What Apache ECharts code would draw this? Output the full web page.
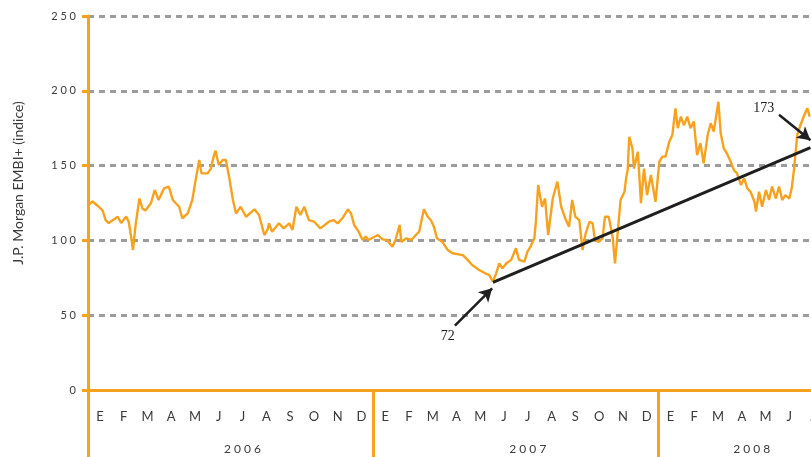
<!DOCTYPE html>
<html><head><meta charset="utf-8">
<script src="https://cdn.jsdelivr.net/npm/echarts@6/dist/echarts.min.js"></script>
<style>html,body{margin:0;padding:0;background:#fff}#c{width:811px;height:457px}</style>
</head><body><div id="c"></div>
<script>
// ---- data ----
const monthLetters = ['E','F','M','A','M','J','J','A','S','O','N','D',
  'E','F','M','A','M','J','J','A','S','O','N','D',
  'E','F','M','A','M','J','J'];
const yearLabels = {6:'2006', 18:'2007', 27:'2008'};
const yMin = 0, yMax = 250, yStep = 50;
const yTitle = 'J.P. Morgan EMBI+ (indice)';

const dates = [
 '2006-01-02','2006-01-07','2006-01-15','2006-01-20','2006-01-24','2006-01-28','2006-02-08','2006-02-12','2006-02-18','2006-02-21','2006-02-24','2006-02-26',
 '2006-03-01','2006-03-06','2006-03-10','2006-03-14','2006-03-21','2006-03-26','2006-03-31','2006-04-07','2006-04-13','2006-04-18','2006-04-26','2006-04-30',
 '2006-05-07','2006-05-13','2006-05-17','2006-05-22','2006-05-25','2006-06-02','2006-06-06','2006-06-10','2006-06-12','2006-06-16','2006-06-21','2006-06-25','2006-06-29',
 '2006-07-04','2006-07-08','2006-07-14','2006-07-21','2006-08-01','2006-08-07','2006-08-14','2006-08-18','2006-08-20','2006-08-24',
 '2006-09-02','2006-09-08','2006-09-15','2006-09-19','2006-09-24','2006-09-29','2006-10-04','2006-10-10','2006-10-17','2006-10-25',
 '2006-11-05','2006-11-11','2006-11-16','2006-11-22','2006-11-29','2006-12-03','2006-12-07','2006-12-13','2006-12-18','2006-12-22','2006-12-26','2006-12-30',
 '2007-01-07','2007-01-13','2007-01-19','2007-01-26','2007-01-30','2007-02-04','2007-02-06','2007-02-12','2007-02-18','2007-02-23','2007-02-27',
 '2007-03-05','2007-03-10','2007-03-14','2007-03-18','2007-03-22','2007-03-29','2007-04-05','2007-04-11','2007-04-24','2007-04-30',
 '2007-05-06','2007-05-15','2007-05-23','2007-05-28','2007-06-02','2007-06-06','2007-06-10','2007-06-14','2007-06-19','2007-06-25',
 '2007-07-01','2007-07-05','2007-07-12','2007-07-16','2007-07-20','2007-07-25','2007-07-27','2007-07-30',
 '2007-08-04','2007-08-08','2007-08-12','2007-08-18','2007-08-24','2007-08-29','2007-09-04','2007-09-08','2007-09-12','2007-09-16','2007-09-21','2007-09-25','2007-09-29',
 '2007-10-04','2007-10-08','2007-10-11','2007-10-16','2007-10-21','2007-10-24','2007-10-29','2007-11-03','2007-11-06','2007-11-09','2007-11-13','2007-11-18','2007-11-20','2007-11-22','2007-11-24','2007-11-28','2007-11-30',
 '2007-12-05','2007-12-09','2007-12-13','2007-12-17','2007-12-22','2007-12-28',
 '2008-01-02','2008-01-06','2008-01-10','2008-01-15','2008-01-19','2008-01-23','2008-01-26','2008-01-30','2008-02-03','2008-02-07','2008-02-11','2008-02-15','2008-02-19','2008-02-23','2008-02-27',
 '2008-03-03','2008-03-07','2008-03-11','2008-03-14','2008-03-17','2008-03-20','2008-03-24','2008-03-28','2008-04-02','2008-04-06','2008-04-10','2008-04-15','2008-04-19','2008-04-23','2008-04-27',
 '2008-05-02','2008-05-04','2008-05-08','2008-05-12','2008-05-17','2008-05-21','2008-05-25','2008-05-30','2008-06-03','2008-06-07','2008-06-11','2008-06-16','2008-06-19','2008-06-22','2008-06-26','2008-06-30',
 '2008-07-05','2008-07-09','2008-07-12'
];
const values = [
 124,126,122.5,120,113.6,111.6,115.8,111.6,116,112.5,101.6,93.6,
 110,128,121.4,120,124.8,133.7,127,134.8,136,127,122.5,114.8,
 118,127,139.3,153.7,144.8,144.8,148,157,160,150.4,153.7,153.7,142.6,
 127,118,122.5,115.8,120.8,117,103.6,107,111.4,105.8,
 111.4,108,111.4,107,122.5,117,122.5,113.6,112.5,108,
 112.5,113.6,111.4,114.8,120.8,118,110.3,105.8,100.3,102.5,100.3,101.4,
 103.6,100.7,100.3,95.8,100.3,110.3,99,101.4,100.3,103.6,105.8,
 120.8,115.8,113.6,109.2,101.4,99,93.6,91.4,90.2,87,
 83.6,80.2,78,76.9,72.4,78,84.7,81.3,84.7,87,
 94.7,87,85.8,92.5,95.8,101.4,112.5,137,
 122.5,128,103.6,128,139.3,122.5,113.6,109.2,127,115.8,113.6,93.6,104.7,
 112.5,111.4,100.3,99,101.4,115.8,115.8,102.5,84.7,102.5,127,132.5,141.5,147,169.3,161.5,148,
 159.3,124.8,148,130.3,143.7,125.8,
 152.6,156,156,166,170.5,188.3,175,182.7,177,182.7,175,179.5,157,165,151.5,
 170.5,178.3,172.7,182.7,192.7,171.6,161.5,158.2,152.6,147,144.8,137,141.5,134.8,132.5,
 125.8,119.2,132.5,122.5,133.7,127,136,128,136,127,130.3,128,134.8,148,170.5,177,
 183.8,188.3,182.7
];

// annotations (data space)
const trendLine = [['2007-06-02', 72], ['2008-07-13', 162]];
const arrowLow  = [['2007-04-14', 43], ['2007-06-01', 68]];
const arrowLast = [['2008-06-03', 184], ['2008-07-13', 167]];
const labelLow  = ['2007-04-05', 36, '72'];
const labelLast = ['2008-05-14', 188.5, '173'];

// ---- helpers ----
function mIdx(s){
  const [y,mo,d] = s.split('-').map(Number);
  const dim = new Date(y, mo, 0).getDate();
  return (y-2006)*12 + (mo-1) + (d-1)/dim;
}
const seriesData = dates.map((d,i)=>[mIdx(d), values[i]]);
const pt = p => [mIdx(p[0]), p[1]];

const ORANGE = '#F7A21E';
const TXT = '#3a3a3a';
const FONT = 'Lato';

const yearAxisData = monthLetters.map((m,i)=> {
  if (!yearLabels[i]) return '';
  const txt = yearLabels[i].split('').join(' ');
  return i === 27 ? {value: txt, textStyle:{padding:[0,0,0,20]}} : txt;
});

const chart = echarts.init(document.getElementById('c'), null, {renderer:'canvas'});
chart.setOption({
  animation: false,
  backgroundColor: '#fff',
  grid: {left: 88, top: 16, height: 374, width: 737, containLabel: false, outerBoundsMode: 'none'},
  xAxis: [
    { type:'category', data: monthLetters, position:'bottom', boundaryGap:true,
      axisLine:{show:true, lineStyle:{color:ORANGE, width:3}},
      axisTick:{show:true, interval:(i)=> i%12===0, length:67, lineStyle:{color:ORANGE, width:3}},
      axisLabel:{show:true, interval:0, color:TXT, fontFamily:FONT, fontSize:13, margin:20},
      splitLine:{show:false} },
    { type:'value', min:0, max:monthLetters.length, show:false },
    { type:'category', data: yearAxisData,
      position:'bottom', boundaryGap:true,
      axisLine:{show:false}, axisTick:{show:false},
      axisLabel:{show:true, interval:0, color:TXT, fontFamily:FONT, fontSize:12, margin:53},
      splitLine:{show:false} }
  ],
  yAxis: {
    type:'value', min:yMin, max:yMax, interval:yStep,
    name: yTitle, nameLocation:'middle', nameGap:63,
    nameTextStyle:{color:TXT, fontFamily:FONT, fontSize:14, padding:[0,0,0,40]},
    axisLine:{show:true, lineStyle:{color:ORANGE, width:3}},
    axisTick:{show:true, length:6, lineStyle:{color:ORANGE, width:3}},
    axisLabel:{color:TXT, fontFamily:FONT, fontSize:11, margin:12,
      formatter:(v)=> String(v).split('').join(' ')},
    splitLine:{show:true, lineStyle:{color:'#9c9c9c', width:3, type:[6,5]}}
  },
  series: [{
    type:'line', xAxisIndex:1, yAxisIndex:0, data: seriesData,
    showSymbol:false, symbol:'none', silent:true,
    lineStyle:{color:ORANGE, width:2.4}, z:3,
    markLine: {
      silent:true, animation:false,
      lineStyle:{color:'#1f1f1f', type:'solid', width:3},
      label:{show:false},
      emphasis:{disabled:true},
      data: [
        [{coord: pt(trendLine[0]), symbol:'none'}, {coord: pt(trendLine[1]), symbol:'none'}],
        [{coord: pt(arrowLow[0]), symbol:'none', lineStyle:{width:2.5}}, {coord: pt(arrowLow[1]), symbol:'arrow', symbolSize:[11,13]}],
        [{coord: pt(arrowLast[0]), symbol:'none', lineStyle:{width:2.5}}, {coord: pt(arrowLast[1]), symbol:'arrow', symbolSize:[11,13]}]
      ]
    },
    markPoint: {
      silent:true, symbol:'circle', symbolSize:1,
      itemStyle:{color:'rgba(0,0,0,0)'},
      label:{show:true, position:'inside', color:'#1a1a1a', fontFamily:'Liberation Serif', fontSize:14,
        formatter:(p)=> p.name},
      data: [
        {name: labelLow[2], coord:[mIdx(labelLow[0]), labelLow[1]]},
        {name: labelLast[2], coord:[mIdx(labelLast[0]), labelLast[1]]}
      ]
    }
  }]
});
</script>
</body></html>
